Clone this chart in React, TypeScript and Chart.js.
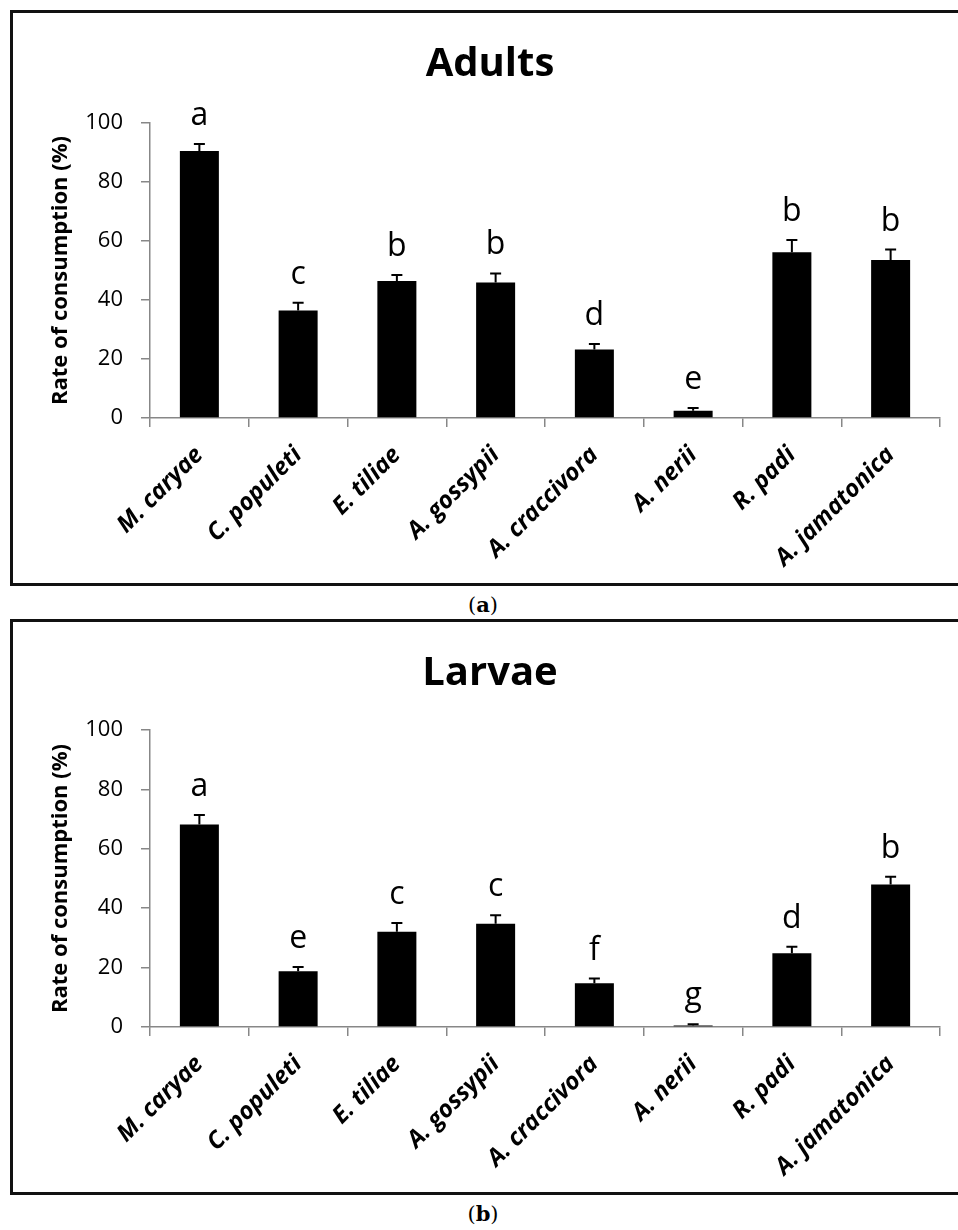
import React, { useEffect, useRef } from "react";
import { Chart, registerables } from "chart.js";

Chart.register(...registerables);

const categories = [
  "M. caryae",
  "C. populeti",
  "E. tiliae",
  "A. gossypii",
  "A. craccivora",
  "A. nerii",
  "R. padi",
  "A. jamatonica",
];

const adultMeans = [90.5, 36.4, 46.4, 45.9, 23.2, 2.5, 56.2, 53.6];
const adultErrors = [2.4, 2.7, 2.1, 3.1, 1.9, 0.9, 4.1, 3.5];
const adultLetters = ["a", "c", "b", "b", "d", "e", "b", "b"];

const larvaeMeans = [68.2, 18.8, 32.1, 34.8, 14.7, 0.5, 24.8, 48.0];
const larvaeErrors = [3.2, 1.4, 2.9, 2.8, 1.6, 0.4, 2.2, 2.6];
const larvaeLetters = ["a", "e", "c", "c", "f", "g", "d", "b"];

const yMin = 0;
const yMax = 100;
const yStep = 20;
const yAxisTitle = "Rate of consumption (%)";

const AXIS_GRAY = "#878787";
const FONT = "'Open Sans', 'DejaVu Sans', sans-serif";

const CANVAS_W = 944;
const CANVAS_H = 568;

type PanelProps = {
  title: string;
  means: number[];
  errors: number[];
  letters: string[];
  top: number;
  plotTop: number;
  caption: string;
};

function Panel({ title, means, errors, letters, top, plotTop, caption }: PanelProps) {
  const ref = useRef<HTMLCanvasElement | null>(null);

  useEffect(() => {
    if (!ref.current) return;
    const plotBottom = 404;
    const annot = {
      id: "annot",
      afterDatasetsDraw(chart: any) {
        const ctx = chart.ctx;
        const xs = chart.scales.x;
        const ys = chart.scales.y;
        ctx.save();
        // error bars
        ctx.strokeStyle = "#000";
        ctx.lineWidth = 2;
        for (let i = 0; i < means.length; i++) {
          const cx = xs.getPixelForValue(i);
          const y0 = ys.getPixelForValue(means[i]);
          const y1 = ys.getPixelForValue(means[i] + errors[i]);
          ctx.beginPath();
          ctx.moveTo(cx, y0);
          ctx.lineTo(cx, y1);
          ctx.moveTo(cx - 5.5, y1);
          ctx.lineTo(cx + 5.5, y1);
          ctx.stroke();
        }
        // letters
        ctx.fillStyle = "#000";
        ctx.font = `32px ${FONT}`;
        ctx.textAlign = "center";
        ctx.textBaseline = "alphabetic";
        for (let i = 0; i < means.length; i++) {
          const cx = xs.getPixelForValue(i);
          const y1 = ys.getPixelForValue(means[i] + errors[i]);
          ctx.fillText(letters[i], cx, y1 - 19);
        }
        // title
        ctx.font = `bold 40px ${FONT}`;
        ctx.fillText(title, 476, 61.5);
        ctx.restore();
      },
    };

    const chart = new Chart(ref.current, {
      type: "bar",
      data: {
        labels: categories,
        datasets: [
          {
            data: means,
            backgroundColor: "#000",
            borderWidth: 0,
            barPercentage: 0.395,
            categoryPercentage: 1,
          },
        ],
      },
      options: {
        animation: false,
        responsive: false,
        maintainAspectRatio: false,
        layout: { padding: { top: plotTop, right: 18, left: 0, bottom: 0 } },
        plugins: {
          legend: { display: false },
          tooltip: { enabled: false },
          title: { display: false },
        },
        scales: {
          x: {
            offset: true,
            grid: {
              display: true,
              offset: true,
              drawOnChartArea: false,
              drawTicks: true,
              tickLength: 9,
              color: AXIS_GRAY,
              lineWidth: 1.5,
            },
            border: { display: true, color: AXIS_GRAY, width: 1.5 },
            ticks: {
              autoSkip: false,
              maxRotation: 45,
              minRotation: 45,
              padding: 14,
              color: "#000",
              font: { family: FONT, size: 24, weight: "bold", style: "italic" },
            },
            afterFit: (s: any) => {
              s.height = CANVAS_H - plotBottom;
            },
          },
          y: {
            min: yMin,
            max: yMax,
            grid: {
              display: true,
              drawOnChartArea: false,
              drawTicks: true,
              tickLength: 9,
              color: AXIS_GRAY,
              lineWidth: 1.5,
            },
            border: { display: true, color: AXIS_GRAY, width: 1.5 },
            ticks: {
              stepSize: yStep,
              padding: 18,
              color: "#000",
              font: { family: FONT, size: 22 },
            },
            title: {
              display: true,
              text: yAxisTitle,
              color: "#000",
              font: { family: FONT, size: 22, weight: "bold" },
              padding: { top: 34, bottom: 0 },
            },
            afterFit: (s: any) => {
              s.width = 136;
            },
          },
        },
      },
      plugins: [annot],
    } as any);

    return () => chart.destroy();
  }, [title, means, errors, letters, plotTop]);

  return (
    <>
      <div
        style={{
          position: "absolute",
          left: 10,
          top: top,
          width: 960,
          height: 576,
          border: "3px solid #111",
          boxSizing: "border-box",
        }}
      />
      <canvas
        ref={ref}
        width={CANVAS_W}
        height={CANVAS_H}
        style={{
          position: "absolute",
          left: 14,
          top: top + 4,
          width: CANVAS_W,
          height: CANVAS_H,
        }}
      />
      <div
        style={{
          position: "absolute",
          left: 423,
          width: 120,
          top: top + 582,
          textAlign: "center",
          font: "21px 'DejaVu Serif', serif",
          lineHeight: "26px",
          color: "#000",
        }}
      >
        (<b>{caption}</b>)
      </div>
    </>
  );
}

export default function App() {
  return (
    <div
      style={{
        position: "absolute",
        left: 0,
        top: 0,
        width: 958,
        height: 1230,
        overflow: "hidden",
        background: "#fff",
      }}
    >
      <Panel
        title="Adults"
        means={adultMeans}
        errors={adultErrors}
        letters={adultLetters}
        top={10}
        plotTop={109}
        caption="a"
      />
      <Panel
        title="Larvae"
        means={larvaeMeans}
        errors={larvaeErrors}
        letters={larvaeLetters}
        top={619}
        plotTop={107}
        caption="b"
      />
    </div>
  );
}
